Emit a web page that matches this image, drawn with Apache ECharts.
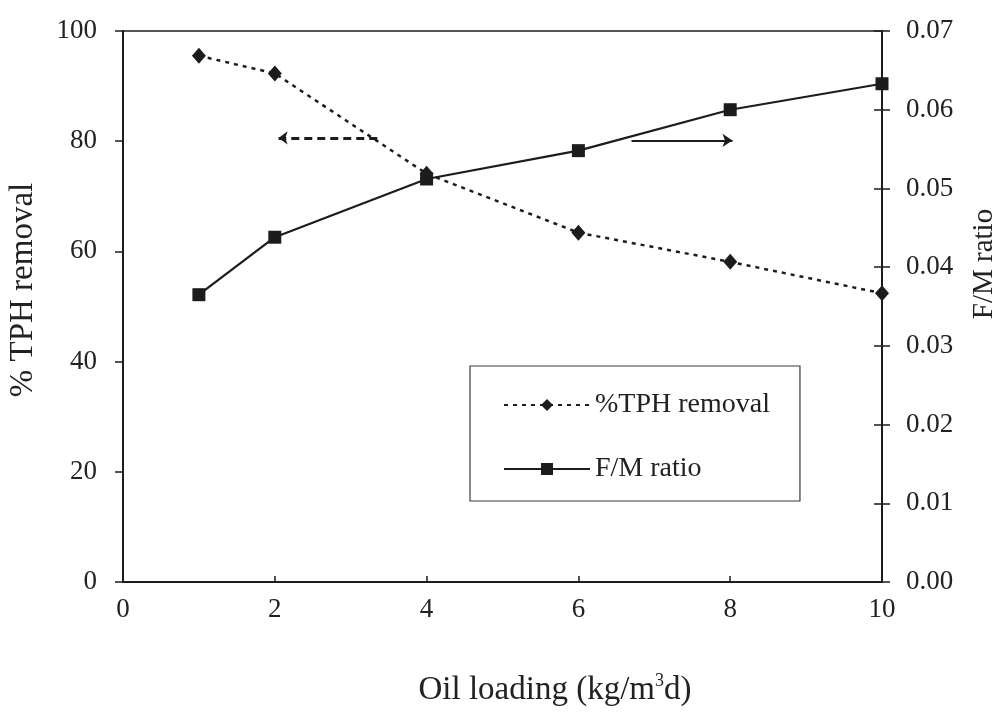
<!DOCTYPE html>
<html>
<head>
<meta charset="utf-8">
<script src="https://cdn.jsdelivr.net/npm/echarts@6/dist/echarts.min.js"></script>
<style>
  html, body { margin: 0; padding: 0; background: #fff; }
  #chart { width: 996px; height: 713px; }
</style>
</head>
<body>
<div id="chart"></div>
<script>
// Oil loading (kg/m3 d)
const oilLoading = [1, 2, 4, 6, 8, 10];
// % TPH removal (left axis)
const tphRemoval = [95.5, 92.3, 74.1, 63.4, 58.1, 52.4];
// F/M ratio (right axis)
const fmRatio = [0.0365, 0.0438, 0.0512, 0.0548, 0.0600, 0.0633];

const xTicks = [0, 2, 4, 6, 8, 10];
const leftTicks = [0, 20, 40, 60, 80, 100];
const rightTicks = [0, 0.01, 0.02, 0.03, 0.04, 0.05, 0.06, 0.07];

// Arrow annotations pointing each curve to its axis
const tphArrow = { from: [3.35, 80.6], to: [2.05, 80.6] };
const fmArrow = { from: [6.7, 0.0561], to: [8.03, 0.0561] };

const FONT = 'Liberation Serif, Times New Roman, serif';
const INK = '#1c1c1c';

const chart = echarts.init(document.getElementById('chart'), null, { renderer: 'canvas' });

const pair = (xs, ys) => xs.map((x, i) => [x, ys[i]]);

chart.setOption({
  animation: false,
  backgroundColor: '#ffffff',
  grid: {
    left: 123, right: 114, top: 31, bottom: 131,
    show: true, borderColor: INK, borderWidth: 1.5, backgroundColor: 'transparent'
  },
  xAxis: {
    type: 'value',
    min: xTicks[0], max: xTicks[xTicks.length - 1], interval: 2,
    axisLine: { show: true, lineStyle: { color: INK, width: 2 } },
    axisTick: { show: true, inside: true, length: 6, lineStyle: { color: INK, width: 1.5 } },
    axisLabel: { color: '#222', fontFamily: FONT, fontSize: 27, margin: 14 },
    splitLine: { show: false }
  },
  yAxis: [
    {
      type: 'value', position: 'left',
      min: leftTicks[0], max: leftTicks[leftTicks.length - 1], interval: 20,
      axisLine: { show: true, lineStyle: { color: INK, width: 2 } },
      axisTick: { show: true, length: 8, lineStyle: { color: INK, width: 1.5 } },
      axisLabel: { color: '#222', fontFamily: FONT, fontSize: 27, margin: 26 },
      splitLine: { show: false }
    },
    {
      type: 'value', position: 'right',
      min: rightTicks[0], max: rightTicks[rightTicks.length - 1], interval: 0.01,
      axisLine: { show: true, lineStyle: { color: INK, width: 2 } },
      axisTick: { show: true, length: 8, lineStyle: { color: INK, width: 1.5 } },
      axisLabel: {
        color: '#222', fontFamily: FONT, fontSize: 27, margin: 24,
        formatter: v => v.toFixed(2)
      },
      splitLine: { show: false }
    },
    {
      // inner half of the cross ticks on the right axis
      type: 'value', position: 'right',
      min: rightTicks[0], max: rightTicks[rightTicks.length - 1], interval: 0.01,
      axisLine: { show: false },
      axisTick: { show: true, inside: true, length: 8, lineStyle: { color: INK, width: 1.5 } },
      axisLabel: { show: false },
      splitLine: { show: false }
    }
  ],
  legend: {
    orient: 'vertical',
    left: 470, top: 366,
    padding: [25, 30, 18, 33],
    itemGap: 36,
    itemWidth: 86, itemHeight: 15,
    borderColor: '#3a3a3a', borderWidth: 1.2,
    backgroundColor: '#fff',
    textStyle: { color: '#222', fontFamily: FONT, fontSize: 28 },
    data: ['%TPH removal', 'F/M ratio']
  },
  series: [
    {
      name: '%TPH removal',
      type: 'line',
      yAxisIndex: 0,
      data: pair(oilLoading, tphRemoval),
      symbol: 'diamond', symbolSize: [14, 16],
      itemStyle: { color: INK },
      lineStyle: { color: INK, width: 2.5, type: [4, 5] },
      z: 3,
      markLine: {
        silent: true,
        symbol: ['none', 'arrow'], symbolSize: [10, 9],
        label: { show: false },
        lineStyle: { color: INK, width: 3, type: [8, 5] },
        data: [[{ coord: tphArrow.from }, { coord: tphArrow.to }]]
      }
    },
    {
      name: 'F/M ratio',
      type: 'line',
      yAxisIndex: 1,
      data: pair(oilLoading, fmRatio),
      symbol: 'rect', symbolSize: 13,
      itemStyle: { color: INK },
      lineStyle: { color: INK, width: 2.2, type: 'solid' },
      z: 4,
      markLine: {
        silent: true,
        symbol: ['none', 'arrow'], symbolSize: [10, 10],
        label: { show: false },
        lineStyle: { color: INK, width: 2, type: 'solid' },
        data: [[{ coord: fmArrow.from }, { coord: fmArrow.to }]]
      }
    }
  ],
  graphic: [
    {
      type: 'text', x: 23, y: 290, rotation: Math.PI / 2,
      style: {
        text: '% TPH removal', fill: '#222', font: '33px ' + FONT,
        textAlign: 'center', textVerticalAlign: 'middle'
      }
    },
    {
      type: 'text', x: 984, y: 264, rotation: Math.PI / 2,
      style: {
        text: 'F/M ratio', fill: '#222', font: '29px ' + FONT,
        textAlign: 'center', textVerticalAlign: 'middle'
      }
    },
    {
      type: 'text', x: 555, y: 690,
      style: {
        text: 'Oil loading (kg/m{sup|3}d)',
        fill: '#222', fontFamily: FONT, fontSize: 33, lineHeight: 36,
        rich: { sup: { fontSize: 18, verticalAlign: 'top', lineHeight: 36, fontFamily: FONT, fill: '#222' } },
        textAlign: 'center', textVerticalAlign: 'middle'
      }
    }
  ]
});
</script>
</body>
</html>
